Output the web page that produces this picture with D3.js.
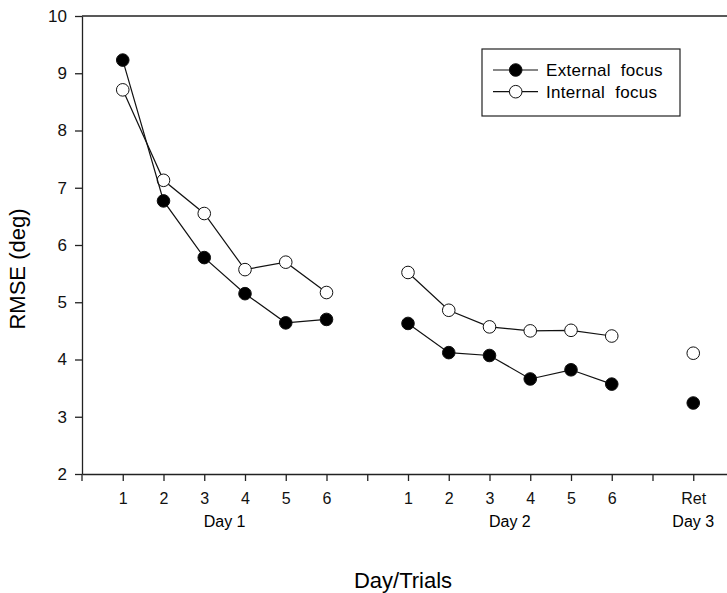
<!DOCTYPE html>
<html lang="en">
<head>
    <meta charset="UTF-8">
    <title>RMSE by Day/Trials</title>
    <script src="https://d3js.org/d3.v7.min.js"></script>
    <style>
        body{ margin:0; background:#fff; }
        svg{ display:block; font-family:"Liberation Sans", Arial, sans-serif; }
        .axis path, .axis line{ stroke:#222; stroke-width:1.3; }
        .axis text{ fill:#111; font-family:"Liberation Sans", Arial, sans-serif; }
    </style>
</head>
<body>
<script>
    // sessions and trials shown along the x axis
    const sessions = ["Day 1", "Day 2", "Day 3"];
    const trialLabels = [
        ["1", "2", "3", "4", "5", "6"],
        ["1", "2", "3", "4", "5", "6"],
        ["Ret"]
    ];
    // RMSE (deg)
    const externalFocus = [
        [9.23, 6.77, 5.78, 5.15, 4.64, 4.70],
        [4.63, 4.12, 4.07, 3.66, 3.82, 3.57],
        [3.24]
    ];
    const internalFocus = [
        [8.71, 7.13, 6.55, 5.57, 5.70, 5.17],
        [5.52, 4.86, 4.57, 4.50, 4.51, 4.41],
        [4.11]
    ];
    const yTicks = [2, 3, 4, 5, 6, 7, 8, 9, 10];

    const width = 727, height = 593;
    const plotLeft = 82, plotTop = 16, plotBottom = 474, plotRight = 734;

    const svg = d3.select("body").append("svg")
        .attr("width", width).attr("height", height);

    // one slot per trial with an empty slot between the days
    let slots = [];
    sessions.forEach((s, si) => {
        trialLabels[si].forEach((t, ti) => slots.push({key: s + "|" + t, label: t, session: si}));
        if (si < sessions.length - 1) slots.push({key: "gap" + si, label: "", session: -1});
    });

    const x = d3.scalePoint()
        .domain(slots.map(d => d.key))
        .range([plotLeft, plotRight])
        .padding(1);

    const y = d3.scaleLinear().domain([2, 10]).range([plotBottom, plotTop]);

    // top frame line
    svg.append("line")
        .attr("x1", plotLeft).attr("x2", plotRight)
        .attr("y1", plotTop).attr("y2", plotTop)
        .attr("stroke", "#222").attr("stroke-width", 1.3);

    const yAxis = svg.append("g")
        .attr("class", "axis")
        .attr("transform", `translate(${plotLeft},0)`)
        .call(d3.axisLeft(y).tickValues(yTicks).tickSize(7).tickSizeOuter(0).tickPadding(8));
    yAxis.selectAll("text").style("font-size", "17px");

    const labelOf = new Map(slots.map(d => [d.key, d.label]));
    const xAxis = svg.append("g")
        .attr("class", "axis")
        .attr("transform", `translate(0,${plotBottom})`)
        .call(d3.axisBottom(x).tickSize(7).tickSizeOuter(0).tickPadding(12)
            .tickFormat(k => labelOf.get(k)));
    xAxis.selectAll("text").style("font-size", "16px");
    // tick at the corner of the axes
    xAxis.append("line").attr("x1", plotLeft).attr("x2", plotLeft).attr("y1", 0).attr("y2", 7);

    // day labels under each group of trials
    sessions.forEach((s, si) => {
        const keys = trialLabels[si].map(t => s + "|" + t);
        const cx = (x(keys[0]) + x(keys[keys.length - 1])) / 2;
        svg.append("text")
            .attr("x", cx).attr("y", 527)
            .attr("text-anchor", "middle")
            .style("font-size", "16px")
            .text(s);
    });

    svg.append("text")
        .attr("x", 403).attr("y", 588)
        .attr("text-anchor", "middle")
        .style("font-size", "22px")
        .text("Day/Trials");

    svg.append("text")
        .attr("transform", "translate(25,269) rotate(-90)")
        .attr("text-anchor", "middle")
        .style("font-size", "22px")
        .text("RMSE (deg)");

    const line = d3.line().x(d => d.x).y(d => d.y);

    function drawSeries(values, fill) {
        const g = svg.append("g");
        sessions.forEach((s, si) => {
            const pts = values[si].map((v, ti) => ({x: x(s + "|" + trialLabels[si][ti]), y: y(v)}));
            if (pts.length > 1) {
                g.append("path").datum(pts)
                    .attr("d", line)
                    .attr("fill", "none")
                    .attr("stroke", "#111")
                    .attr("stroke-width", 1.2);
            }
            g.selectAll(null).data(pts).enter().append("circle")
                .attr("cx", d => d.x).attr("cy", d => d.y)
                .attr("r", 6.3)
                .attr("fill", fill)
                .attr("stroke", "#111")
                .attr("stroke-width", 1);
        });
    }

    drawSeries(internalFocus, "#fff");
    drawSeries(externalFocus, "#000");

    // legend
    const legend = svg.append("g");
    legend.append("rect")
        .attr("x", 482).attr("y", 49)
        .attr("width", 198).attr("height", 67)
        .attr("fill", "#fff").attr("stroke", "#222").attr("stroke-width", 1.2);
    const items = [["External focus", "#000"], ["Internal focus", "#fff"]];
    items.forEach((it, i) => {
        const ly = 70 + i * 21.7;
        legend.append("line")
            .attr("x1", 493).attr("x2", 538).attr("y1", ly).attr("y2", ly)
            .attr("stroke", "#111").attr("stroke-width", 1.2);
        legend.append("circle")
            .attr("cx", 515.7).attr("cy", ly).attr("r", 6.3)
            .attr("fill", it[1]).attr("stroke", "#111");
        legend.append("text")
            .attr("x", 546).attr("y", ly + 6)
            .style("font-size", "17px")
            .style("word-spacing", "5px")
            .style("letter-spacing", "0.3px")
            .text(it[0]);
    });
</script>
</body>
</html>
